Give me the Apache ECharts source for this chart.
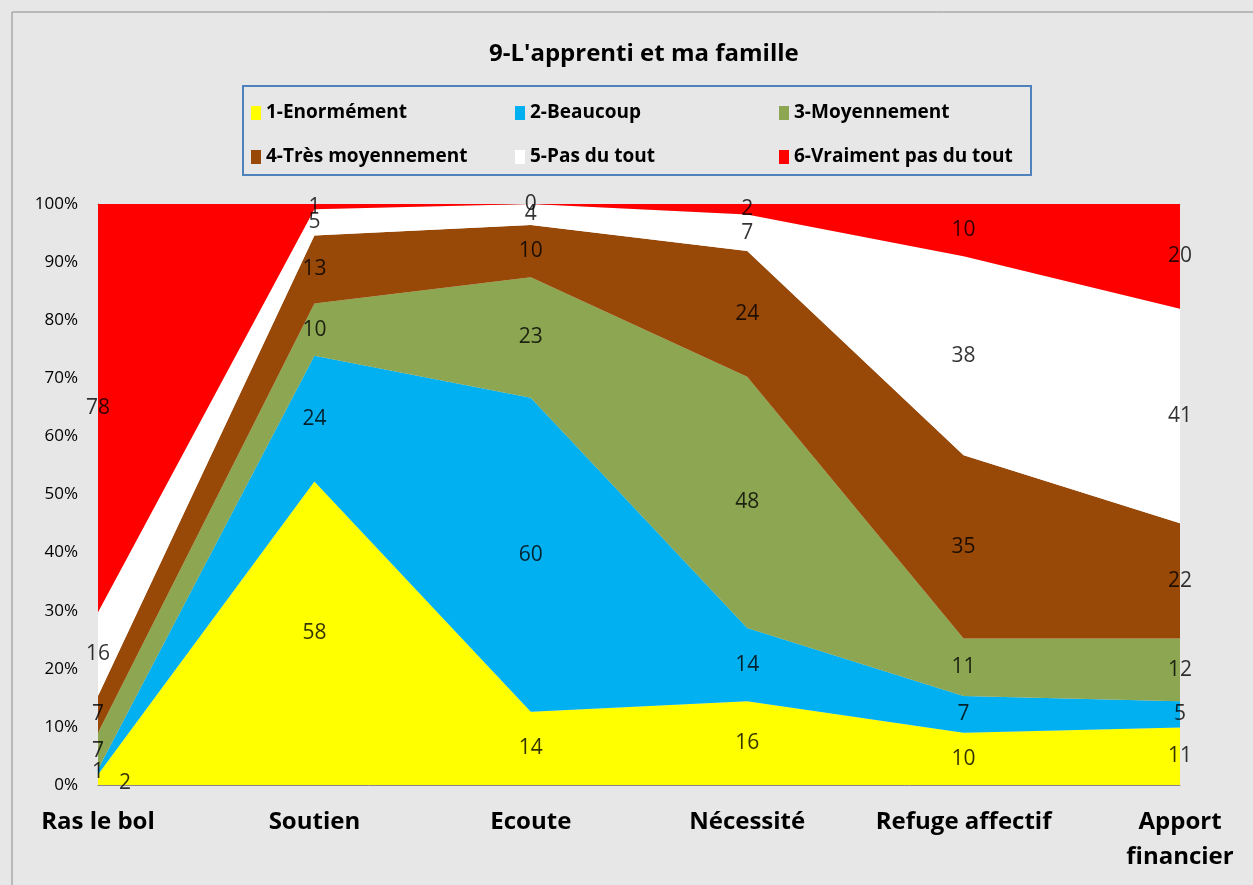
<!DOCTYPE html>
<html><head><meta charset="utf-8">
<script src="https://cdn.jsdelivr.net/npm/echarts@6/dist/echarts.min.js"></script>
<style>html,body{margin:0;padding:0;background:#e7e7e8}#c{width:1253px;height:885px}</style>
</head><body><div id="c"></div>
<script>
const categories = ['Ras le bol', 'Soutien', 'Ecoute', 'Nécessité', 'Refuge affectif', 'Apport\nfinancier'];
const seriesNames = ['1-Enormément', '2-Beaucoup', '3-Moyennement', '4-Très moyennement', '5-Pas du tout', '6-Vraiment pas du tout'];
const enormement = [2, 58, 14, 16, 10, 11];
const beaucoup = [1, 24, 60, 14, 7, 5];
const moyennement = [7, 10, 23, 48, 11, 12];
const tresMoyennement = [7, 13, 10, 24, 35, 22];
const pasDuTout = [16, 5, 4, 7, 38, 41];
const vraimentPas = [78, 1, 0, 2, 10, 20];
const yTicks = [0, 10, 20, 30, 40, 50, 60, 70, 80, 90, 100];

const colors = ['#FFFF00', '#00B0F0', '#8CA651', '#984807', '#FFFFFF', '#FF0000'];
const allVals = [enormement, beaucoup, moyennement, tresMoyennement, pasDuTout, vraimentPas];
const totals = categories.map((c, i) => allVals.reduce((s, v) => s + v[i], 0));
const pcts = allVals.map(v => v.map((x, i) => x / totals[i] * 100));

const font = '"Open Sans", Lato, sans-serif';
const series = [];
pcts.forEach((p, s) => {
  series.push({
    name: seriesNames[s], type: 'line', stack: 'tot', data: p,
    symbol: 'none', lineStyle: { width: 0 }, itemStyle: { color: colors[s] },
    areaStyle: { color: colors[s], opacity: 1 }, z: 2
  });
});
// label positions: middle of each band
pcts.forEach((p, s) => {
  const data = p.map((v, i) => {
    let below = 0;
    for (let k = 0; k < s; k++) below += pcts[k][i];
    const d = { value: [i, below + v / 2], raw: allVals[s][i] };
    if (s === 0 && i === 0) d.label = { offset: [27, 3] };
    return d;
  });
  series.push({
    type: 'scatter', data, symbolSize: 0, silent: true, z: 5,
    label: { show: true, position: 'inside', color: '#000', fontFamily: font, fontSize: 21,
      formatter: prm => String(prm.data.raw) },
    tooltip: { show: false }
  });
});

const chart = echarts.init(document.getElementById('c'), null, { renderer: 'canvas' });
chart.setOption({
  backgroundColor: '#e7e7e8',
  animation: false,
  title: { text: "9-L'apprenti et ma famille", left: 484, top: 37,
    textStyle: { fontFamily: font, fontWeight: 'bold', fontSize: 24, color: '#000' } },
  legend: {
    data: seriesNames.map((n, i) => ({ name: n, itemStyle: { color: colors[i] } })),
    left: 246, top: 86, width: 860, itemGap: 0, icon: 'rect', itemWidth: 10, itemHeight: 14,
    textStyle: { fontFamily: font, fontWeight: 'bold', fontSize: 19, color: '#000', width: 249, height: 44, lineHeight: 44 }
  },
  graphic: [
    { type: 'rect', shape: { x: 243, y: 86, width: 788, height: 89 }, style: { fill: 'none', stroke: '#4F81BD', lineWidth: 2 }, z: 10 },
    { type: 'rect', shape: { x: 12, y: 12, width: 1300, height: 900 }, style: { fill: 'none', stroke: '#8a8a8a', lineWidth: 1 }, z: 10 }
  ],
  grid: { left: 98, right: 73, top: 204, bottom: 100 },
  xAxis: [{
    type: 'category', data: categories, boundaryGap: false,
    axisLine: { lineStyle: { color: '#888' } }, axisTick: { show: false },
    axisLabel: { fontFamily: font, fontWeight: 'bold', fontSize: 24, color: '#000', margin: 20, lineHeight: 35, interval: 0 }
  }, {
    type: 'category', data: categories, boundaryGap: false, position: 'top',
    axisLine: { lineStyle: { color: '#888' } }, axisTick: { show: false }, axisLabel: { show: false }
  }],
  yAxis: {
    type: 'value', min: 0, max: 100, interval: 10,
    axisLine: { show: true, lineStyle: { color: '#888' } }, axisTick: { show: false }, splitLine: { show: false },
    axisLabel: { fontFamily: font, fontSize: 17, color: '#000', margin: 20,
      formatter: v => yTicks.includes(v) ? v + '%' : '' }
  },
  series
});
</script></body></html>
